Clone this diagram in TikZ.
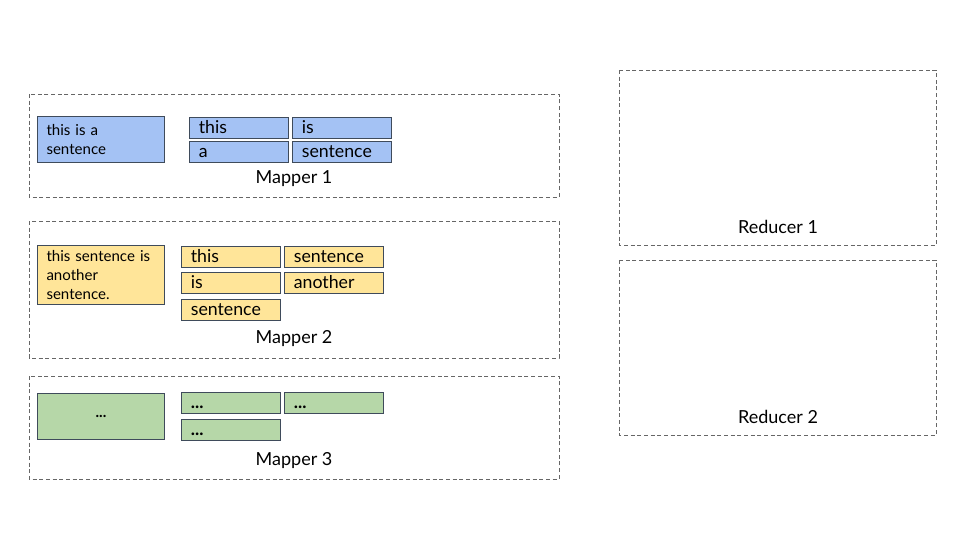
\documentclass[tikz,border=0pt]{standalone}
\usepackage{fontspec}
\setmainfont{Lato}
\definecolor{edge}{HTML}{3F4B5B}
\definecolor{frame}{HTML}{666666}
\definecolor{fblue}{HTML}{A4C2F4}
\definecolor{fyellow}{HTML}{FFE599}
\definecolor{fgreen}{HTML}{B6D7A8}
\begin{document}
\begin{tikzpicture}[x=0.75pt,y=-0.75pt,
  group/.style={draw=frame, line width=0.75pt, dash pattern=on 3pt off 2pt},
  caption/.style={font=\fontsize{13.5}{15}\selectfont, inner sep=0pt},
  inbox/.style 2 args={draw=edge, line width=0.75pt, anchor=north west,
    minimum width=127*0.75pt, minimum height=#1*0.75pt,
    text width=127*0.75pt-13.5pt, inner xsep=6.75pt, inner ysep=0pt,
    align=left, fill=#2, font=\fontsize{11.3}{14.2}\selectfont},
  word/.style={draw=edge, line width=0.75pt, anchor=north west,
    minimum width=99*0.75pt, minimum height=21*0.75pt,
    text width=99*0.75pt-14pt, inner xsep=7pt, inner ysep=0pt,
    text height=11pt, text depth=2.5pt,
    align=left, fill=#1, font=\fontsize{13.3}{15}\selectfont}]
\useasboundingbox (0,0) rectangle (960,540);

% mapper frames
\draw[group] (29,94) rectangle (559,197);
\draw[group] (29,221) rectangle (559,358);
\draw[group] (29,376) rectangle (559,479);
% reducer frames
\draw[group] (619,70) rectangle (936,245);
\draw[group] (619,260) rectangle (936,435);

% Mapper 1
\node[inbox={46}{fblue}] (in1) at (37,116) {this is a\\sentence};
\node[word=fblue] (m1a) at (189,117) {this};
\node[word=fblue] (m1b) at (292,117) {is};
\node[word=fblue] (m1c) at (189,141) {a};
\node[word=fblue] (m1d) at (292,141) {sentence};
\node[caption] (lm1) at (294,178.5) {Mapper 1};

% Mapper 2
\node[inbox={59}{fyellow}] (in2) at (37,245) {this sentence is\\another\\sentence.};
\node[word=fyellow] (m2a) at (181,246) {this};
\node[word=fyellow] (m2b) at (284,246) {sentence};
\node[word=fyellow] (m2c) at (181,272) {is};
\node[word=fyellow] (m2d) at (284,272) {another};
\node[word=fyellow] (m2e) at (181,299) {sentence};
\node[caption] (lm2) at (294,338.5) {Mapper 2};

% Mapper 3
\node[inbox={46}{fgreen}, align=center] (in3) at (37,393) {\textbf{...}};
\node[word=fgreen] (m3a) at (181,392) {\textbf{...}};
\node[word=fgreen] (m3b) at (284,392) {\textbf{...}};
\node[word=fgreen] (m3c) at (181,419) {\textbf{...}};
\node[caption] (lm3) at (294,460.5) {Mapper 3};

% reducers
\node[caption] (lr1) at (778,226.5) {Reducer 1};
\node[caption] (lr2) at (778,416.5) {Reducer 2};
\end{tikzpicture}
\end{document}
